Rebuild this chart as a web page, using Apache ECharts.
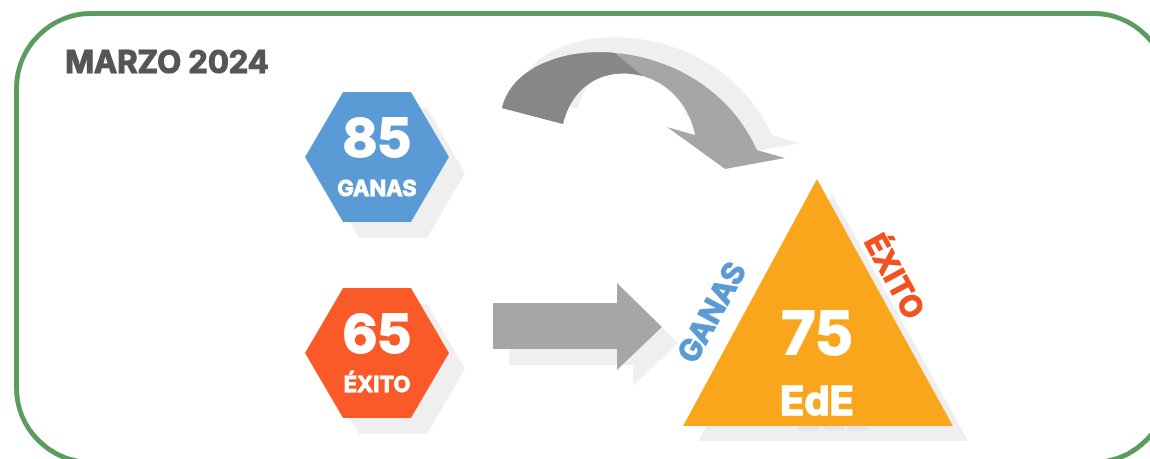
<!DOCTYPE html>
<html>
<head>
<meta charset="utf-8">
<script src="https://cdn.jsdelivr.net/npm/echarts@6/dist/echarts.min.js"></script>
<style>
  html, body { margin: 0; padding: 0; background: #fff; }
  #main { width: 1150px; height: 459px; }
</style>
</head>
<body>
<div id="main"></div>
<script>
// datos del periodo
const periodLabel = 'MARZO 2024';
const metricNames = ['GANAS', 'ÉXITO', 'EdE'];
const metricValues = [85, 65, 75];
const sideLabels = ['GANAS', 'ÉXITO'];

const FONT = 'Inter, "Open Sans", sans-serif';
const SHADOW = '#efefef';

// puntos de una curva cubica
function cubic(p0, p1, p2, p3, n) {
  const pts = [];
  for (let i = 0; i <= n; i++) {
    const t = i / n, u = 1 - t;
    const a = u * u * u, b = 3 * u * u * t, c = 3 * u * t * t, d = t * t * t;
    pts.push([a * p0[0] + b * p1[0] + c * p2[0] + d * p3[0],
              a * p0[1] + b * p1[1] + c * p2[1] + d * p3[1]]);
  }
  return pts;
}
function shift(pts, dx, dy) {
  return pts.map(p => [p[0] + dx, p[1] + dy]);
}
function hexagon(cx, cy) {
  const hw = 72, hh = 65, ht = 34;
  return [[cx - hw, cy], [cx - ht, cy - hh], [cx + ht, cy - hh],
          [cx + hw, cy], [cx + ht, cy + hh], [cx - ht, cy + hh]];
}
// texto en negrita, con un trazo del mismo color para engrosarlo
function txt(x, y, text, size, color, rot, thick) {
  return {
    type: 'text', x: x, y: y, rotation: rot || 0,
    style: {
      text: text, fill: color, font: 'bold ' + size + 'px ' + FONT,
      textAlign: 'center', textVerticalAlign: 'middle',
      stroke: thick ? color : null, lineWidth: thick || 0
    }
  };
}

// flecha curva
const outer = cubic([502, 108], [520, 30], [700, 25], [757, 150], 40);
const inner = cubic([695, 135], [680, 60], [580, 50], [563, 124], 40);
const head = [[785, 158], [725, 169], [667, 127]];
const curved = outer.concat(head, inner);
const curvedDark = outer.slice(0, 21).concat(inner.slice(17));

// flecha recta
const straight = [[493, 303], [617, 303], [617, 283], [662, 327], [617, 370], [617, 349], [493, 349]];

// triangulo
const tri = [[817, 179], [953, 426], [683, 426]];
const sideAngle = Math.atan2(247, 134);

const hexCenters = [[377, 157], [377, 353]];
const hexColors = ['#5b9bd5', '#fa5a27'];

const elements = [];

// sombras
elements.push({ type: 'polygon', shape: { points: shift(curved, 15, -15) }, style: { fill: SHADOW } });
elements.push({ type: 'polygon', shape: { points: shift(straight, 16, 16) }, style: { fill: SHADOW } });
elements.push({ type: 'polygon', shape: { points: shift(tri, 15, 15) }, style: { fill: SHADOW } });
hexCenters.forEach(function (c) {
  elements.push({ type: 'polygon', shape: { points: hexagon(c[0] + 16, c[1] + 16) }, style: { fill: SHADOW } });
});
elements.push(txt(833, 418, metricNames[2], 40, '#e6e6e6', 0, 1.5));

// flechas
elements.push({ type: 'polygon', shape: { points: curved }, style: { fill: '#a6a6a6' } });
elements.push({ type: 'polygon', shape: { points: curvedDark }, style: { fill: '#878787' } });
elements.push({ type: 'polygon', shape: { points: straight }, style: { fill: '#a6a6a6' } });

// hexagonos
hexCenters.forEach(function (c, i) {
  elements.push({ type: 'polygon', shape: { points: hexagon(c[0], c[1]) }, style: { fill: hexColors[i] } });
  elements.push(txt(c[0], c[1] - 16, String(metricValues[i]), 53, '#fff', 0, 2));
  elements.push(txt(c[0], c[1] + 32, metricNames[i], 22, '#fff', 0, 0.9));
});

// triangulo EdE
elements.push({ type: 'polygon', shape: { points: tri }, style: { fill: '#f9a61d' } });
elements.push(txt(817, 336, String(metricValues[2]), 59, '#fff', 0, 2));
elements.push(txt(817, 403, metricNames[2], 40, '#fff', 0, 1.5));
elements.push(txt(713, 313, sideLabels[0], 30, '#5b9bd5', sideAngle, 1.2));
elements.push(txt(893, 277, sideLabels[1], 30, '#f4511e', -sideAngle, 1.2));

// titulo y marco
elements.push(txt(167, 64, periodLabel, 31, '#555555', 0, 1.2));
elements.push({
  type: 'rect',
  shape: { x: 16.5, y: 13.5, width: 1151.5, height: 449, r: 75 },
  style: { fill: 'none', stroke: '#5a9c5e', lineWidth: 5 }
});

const chart = echarts.init(document.getElementById('main'));
chart.setOption({
  backgroundColor: '#fff',
  animation: false,
  graphic: { elements: elements }
});
</script>
</body>
</html>
